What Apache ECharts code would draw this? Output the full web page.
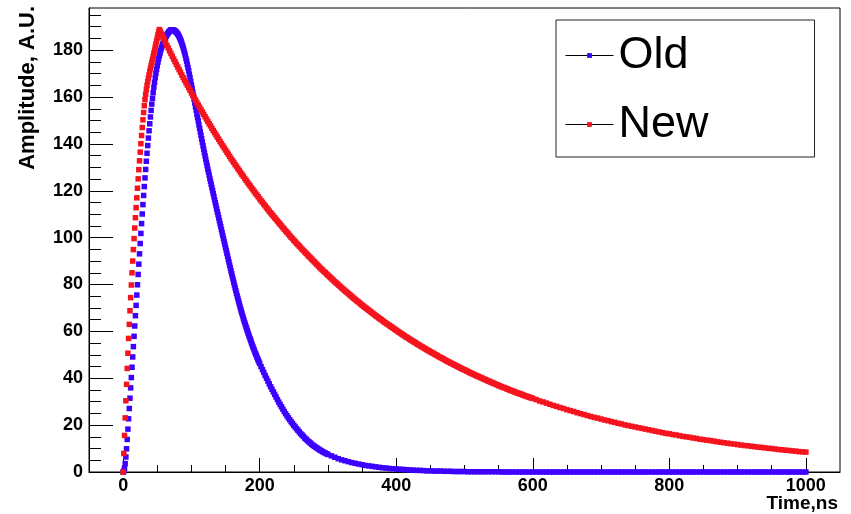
<!DOCTYPE html>
<html>
<head>
<meta charset="utf-8">
<script src="https://cdn.jsdelivr.net/npm/echarts@6/dist/echarts.min.js"></script>
<style>
  html, body { margin: 0; padding: 0; background: #fff; }
  #chart { width: 851px; height: 514px; }
</style>
</head>
<body>
<div id="chart"></div>
<script>
// Pulse shapes of the old and new shaper, amplitude vs time.
const FONT = "'Liberation Sans', Arial, Helvetica, sans-serif";

const seriesNames = ['Old', 'New'];
const xTickLabels = [0, 200, 400, 600, 800, 1000];
const xMinorTicks = [50, 100, 150, 250, 300, 350, 450, 500, 550, 650, 700, 750, 850, 900, 950];
const yTickLabels = [0, 20, 40, 60, 80, 100, 120, 140, 160, 180];
const yMinorTicks = [5, 10, 15, 25, 30, 35, 45, 50, 55, 65, 70, 75, 85, 90, 95, 105, 110, 115,
                     125, 130, 135, 145, 150, 155, 165, 170, 175, 185, 190, 195];

// Old pulse: 0-200 ns sampled every 1 ns
const oldPulse1ns = [
  0, 0.4, 1.6, 3.6, 6.4, 9.9, 13.9, 18.3, 22.7, 27.1,
  31.5, 35.9, 40.3, 44.7, 49.1, 53.5, 57.9, 62.3, 66.7, 71.1,
  75.5, 79.9, 84.3, 88.7, 93.1, 97.5, 101.8, 106.0, 110.1, 114.1,
  118.0, 121.8, 125.5, 129.1, 132.6, 136.0, 139.3, 142.5, 145.6, 148.6,
  151.5, 154.3, 157.0, 159.5, 161.9, 164.2, 166.3, 168.3, 170.1, 171.8,
  173.4, 174.9, 176.3, 177.6, 178.8, 179.9, 180.9, 181.8, 182.6, 183.4,
  184.1, 184.8, 185.4, 186.0, 186.5, 187.0, 187.4, 187.8, 188.1, 188.4,
  188.6, 188.7, 188.7, 188.6, 188.5, 188.4, 188.2, 187.9, 187.6, 187.3,
  186.9, 186.4, 185.8, 185.2, 184.5, 183.8, 182.9, 182.0, 181.1, 180.0,
  178.9, 177.8, 176.5, 175.3, 173.9, 172.6, 171.2, 169.7, 168.2, 166.7,
  165.2, 163.7, 162.1, 160.6, 159.0, 157.5, 155.9, 154.4, 152.8, 151.3,
  149.8, 148.2, 146.7, 145.2, 143.7, 142.2, 140.7, 139.2, 137.8, 136.3,
  134.9, 133.5, 132.1, 130.7, 129.3, 128.0, 126.7, 125.3, 124.0, 122.7,
  121.4, 120.1, 118.8, 117.5, 116.2, 114.9, 113.6, 112.3, 111.0, 109.8,
  108.5, 107.2, 105.9, 104.7, 103.4, 102.1, 100.9, 99.6, 98.3, 97.1,
  95.8, 94.6, 93.3, 92.1, 90.8, 89.6, 88.3, 87.1, 85.8, 84.6,
  83.4, 82.2, 81.0, 79.8, 78.6, 77.4, 76.3, 75.2, 74.1, 73.0,
  71.9, 70.8, 69.7, 68.7, 67.7, 66.7, 65.7, 64.7, 63.8, 62.9,
  62.0, 61.1, 60.2, 59.3, 58.5, 57.6, 56.8, 56.0, 55.1, 54.3,
  53.5, 52.7, 52.0, 51.2, 50.5, 49.8, 49.0, 48.3, 47.6, 47.0,
  46.3
];
// Old pulse: 202-300 ns every 2 ns
const oldPulse2ns = [
  45.0, 43.7, 42.5, 41.2, 40.0, 38.8, 37.6, 36.4, 35.3, 34.2,
  33.1, 32.0, 30.9, 29.8, 28.8, 27.8, 26.8, 25.8, 24.9, 24.0,
  23.1, 22.3, 21.5, 20.7, 19.9, 19.2, 18.5, 17.8, 17.1, 16.4,
  15.8, 15.2, 14.5, 14.0, 13.4, 12.9, 12.4, 11.9, 11.4, 11.0,
  10.6, 10.2, 9.8, 9.4, 9.1, 8.7, 8.4, 8.1, 7.8, 7.5
];
// Old pulse: 305-1000 ns every 5 ns
const oldPulse5ns = [
  6.9, 6.3, 5.7, 5.2, 4.8, 4.4, 4.0, 3.7, 3.4, 3.1,
  2.8, 2.6, 2.4, 2.2, 2.0, 1.8, 1.7, 1.5, 1.4, 1.3,
  1.2, 1.1, 1.0, 0.9, 0.8, 0.7, 0.7, 0.6, 0.5, 0.5,
  0.4, 0.4, 0.4, 0.3, 0.3, 0.3, 0.2, 0.2, 0.2, 0.2,
  0.1, 0.1, 0.1, 0.1, 0.1, 0.1, 0.1, 0.1, 0.1, 0.1,
  0, 0, 0, 0, 0, 0, 0, 0, 0, 0,
  0, 0, 0, 0, 0, 0, 0, 0, 0, 0,
  0, 0, 0, 0, 0, 0, 0, 0, 0, 0,
  0, 0, 0, 0, 0, 0, 0, 0, 0, 0,
  0, 0, 0, 0, 0, 0, 0, 0, 0, 0,
  0, 0, 0, 0, 0, 0, 0, 0, 0, 0,
  0, 0, 0, 0, 0, 0, 0, 0, 0, 0,
  0, 0, 0, 0, 0, 0, 0, 0, 0, 0,
  0, 0, 0, 0, 0, 0, 0, 0, 0, 0
];

// New pulse: 0-60 ns every 1 ns
const newPulse1ns = [
  0, 7.9, 15.6, 23.1, 30.4, 37.4, 44.2, 50.7, 57.0, 63.0,
  68.8, 74.4, 79.8, 85.0, 90.0, 94.9, 99.6, 104.1, 108.5, 112.8,
  117.0, 121.1, 125.1, 129.0, 132.8, 136.5, 140.1, 143.6, 147.0, 150.3,
  153.4, 156.3, 158.9, 161.2, 163.2, 165.0, 166.6, 168.1, 169.5, 170.9,
  172.2, 173.5, 174.8, 176.1, 177.4, 178.7, 180.0, 181.3, 182.6, 183.9,
  185.2, 186.5, 187.7, 188.8, 188.2, 187.6, 186.9, 186.3, 185.7, 185.1,
  184.5
];
// New pulse: 62-200 ns every 2 ns
const newPulse2ns = [
  183.3, 182.1, 180.9, 179.7, 178.6, 177.4, 176.2, 175.1, 173.9, 172.8,
  171.7, 170.6, 169.4, 168.3, 167.2, 166.1, 165.1, 164.0, 162.9, 161.8,
  160.8, 159.7, 158.7, 157.7, 156.6, 155.6, 154.6, 153.6, 152.6, 151.6,
  150.6, 149.6, 148.6, 147.7, 146.7, 145.7, 144.8, 143.8, 142.9, 142.0,
  141.0, 140.1, 139.2, 138.3, 137.4, 136.5, 135.6, 134.7, 133.8, 132.9,
  132.1, 131.2, 130.4, 129.5, 128.7, 127.8, 127.0, 126.2, 125.3, 124.5,
  123.7, 122.9, 122.1, 121.3, 120.5, 119.7, 118.9, 118.2, 117.4, 116.6
];
// New pulse: 202-600 ns every 2 ns
const newPulse2nsLate = [
  115.8, 115.1, 114.3, 113.6, 112.8, 112.1, 111.3, 110.6, 109.9, 109.2,
  108.5, 107.8, 107.1, 106.4, 105.7, 105.0, 104.3, 103.6, 102.9, 102.3,
  101.6, 100.9, 100.2, 99.6, 98.9, 98.3, 97.6, 97.0, 96.4, 95.8,
  95.1, 94.5, 93.9, 93.3, 92.7, 92.1, 91.5, 90.9, 90.3, 89.7,
  89.1, 88.5, 87.9, 87.3, 86.7, 86.2, 85.6, 85.1, 84.5, 84.0,
  83.4, 82.9, 82.3, 81.8, 81.2, 80.7, 80.2, 79.7, 79.1, 78.6,
  78.1, 77.6, 77.1, 76.6, 76.1, 75.6, 75.1, 74.6, 74.1, 73.6,
  73.1, 72.7, 72.2, 71.7, 71.2, 70.8, 70.3, 69.9, 69.4, 69.0,
  68.5, 68.1, 67.6, 67.2, 66.7, 66.3, 65.8, 65.4, 65.0, 64.6,
  64.1, 63.7, 63.3, 62.9, 62.5, 62.1, 61.7, 61.3, 60.9, 60.5,
  60.1, 59.7, 59.3, 58.9, 58.5, 58.1, 57.7, 57.4, 57.0, 56.6,
  56.2, 55.9, 55.5, 55.2, 54.8, 54.4, 54.1, 53.7, 53.4, 53.0,
  52.7, 52.3, 52.0, 51.7, 51.3, 51.0, 50.7, 50.3, 50.0, 49.7,
  49.3, 49.0, 48.7, 48.4, 48.1, 47.7, 47.4, 47.1, 46.8, 46.5,
  46.2, 45.9, 45.6, 45.3, 45.0, 44.7, 44.4, 44.1, 43.8, 43.6,
  43.3, 43.0, 42.7, 42.4, 42.1, 41.9, 41.6, 41.3, 41.0, 40.8,
  40.5, 40.3, 40.0, 39.7, 39.5, 39.2, 38.9, 38.7, 38.4, 38.2,
  37.9, 37.7, 37.4, 37.2, 36.9, 36.7, 36.4, 36.2, 36.0, 35.8,
  35.5, 35.3, 35.0, 34.8, 34.6, 34.4, 34.1, 33.9, 33.7, 33.5,
  33.3, 33.1, 32.8, 32.6, 32.4, 32.2, 32.0, 31.8, 31.6, 31.4
];
// New pulse: 605-1000 ns every 5 ns
const newPulse5ns = [
  30.9, 30.3, 29.9, 29.4, 28.9, 28.4, 28.0, 27.5, 27.1, 26.6,
  26.2, 25.8, 25.3, 24.9, 24.5, 24.1, 23.7, 23.3, 23.0, 22.6,
  22.2, 21.9, 21.5, 21.2, 20.8, 20.5, 20.1, 19.8, 19.5, 19.2,
  18.9, 18.6, 18.3, 18.0, 17.7, 17.4, 17.1, 16.8, 16.5, 16.3,
  16.0, 15.8, 15.5, 15.2, 15.0, 14.8, 14.5, 14.3, 14.0, 13.8,
  13.6, 13.4, 13.2, 12.9, 12.7, 12.5, 12.3, 12.1, 11.9, 11.7,
  11.5, 11.3, 11.2, 11.0, 10.8, 10.6, 10.5, 10.3, 10.1, 10.0,
  9.8, 9.6, 9.5, 9.3, 9.2, 9.0, 8.9, 8.7, 8.6, 8.5
];

// Pair each sample with its time (ns)
function sampled(startNs, stepNs, values) {
  return values.map((v, i) => [startNs + i * stepNs, v]);
}

const oldPoints = [].concat(
  sampled(0, 1, oldPulse1ns),
  sampled(202, 2, oldPulse2ns),
  sampled(305, 5, oldPulse5ns)
);
const newPoints = [].concat(
  sampled(0, 1, newPulse1ns),
  sampled(62, 2, newPulse2ns),
  sampled(202, 2, newPulse2nsLate),
  sampled(605, 5, newPulse5ns)
);

function markerSeries(name, color, points) {
  return {
    type: 'line',
    name: name,
    data: points,
    symbol: 'rect',
    symbolSize: 5.5,
    showSymbol: true,
    showAllSymbol: true,
    lineStyle: { width: 0, opacity: 0 },
    itemStyle: { color: color },
    clip: false,
    silent: true,
    emphasis: { disabled: true },
    animation: false
  };
}

const labelStyle = {
  fontFamily: FONT, fontSize: 18, fontWeight: 'bold', color: '#000',
  formatter: (v) => String(v)
};

const chart = echarts.init(document.getElementById('chart'), null, { renderer: 'canvas' });
chart.setOption({
  backgroundColor: '#fff',
  animation: false,
  grid: {
    left: 89, right: 11, top: 8, bottom: 42,
    show: true, borderColor: '#000', borderWidth: 1, backgroundColor: 'transparent'
  },
  legend: {
    data: seriesNames,
    orient: 'vertical',
    left: 556, top: 20,
    padding: [13, 106, 10, 9],
    itemWidth: 48, itemHeight: 6, itemGap: 24,
    borderColor: '#222', borderWidth: 1,
    selectedMode: false,
    lineStyle: { color: '#000', width: 1, opacity: 1 },
    textStyle: { fontFamily: FONT, fontSize: 45, color: '#000' }
  },
  xAxis: [
    {
      type: 'value', min: -50, max: 1050,
      axisLine: { show: true, onZero: false, lineStyle: { color: '#000', width: 1 } },
      axisTick: { show: true, inside: true, length: 14, customValues: xTickLabels, lineStyle: { color: '#000' } },
      axisLabel: Object.assign({ customValues: xTickLabels, margin: 5 }, labelStyle),
      splitLine: { show: false }
    },
    {
      type: 'value', min: -50, max: 1050, position: 'bottom',
      axisLine: { show: false, onZero: false },
      axisTick: { show: true, inside: true, length: 7, customValues: xMinorTicks, lineStyle: { color: '#000' } },
      axisLabel: { show: false },
      splitLine: { show: false }
    }
  ],
  yAxis: [
    {
      type: 'value', min: 0, max: 198,
      axisLine: { show: true, onZero: false, lineStyle: { color: '#000', width: 1 } },
      axisTick: { show: true, inside: true, length: 24, customValues: yTickLabels, lineStyle: { color: '#000' } },
      axisLabel: Object.assign({ customValues: yTickLabels, margin: 6 }, labelStyle),
      splitLine: { show: false }
    },
    {
      type: 'value', min: 0, max: 198, position: 'left',
      axisLine: { show: false, onZero: false },
      axisTick: { show: true, inside: true, length: 12, customValues: yMinorTicks, lineStyle: { color: '#000' } },
      axisLabel: { show: false },
      splitLine: { show: false }
    }
  ],
  graphic: [
    {
      type: 'text', x: 28, y: 6, rotation: Math.PI / 2,
      style: { text: 'Amplitude, A.U.', fontFamily: FONT, fontSize: 22, fontWeight: 'bold',
               fill: '#000', align: 'right', verticalAlign: 'middle' }
    },
    {
      type: 'text', x: 838, y: 503.5,
      style: { text: 'Time,ns', fontFamily: FONT, fontSize: 19, fontWeight: 'bold',
               fill: '#000', align: 'right', verticalAlign: 'middle' }
    }
  ],
  series: [
    markerSeries(seriesNames[0], '#3c00ff', oldPoints),
    markerSeries(seriesNames[1], '#f5141e', newPoints)
  ]
});
</script>
</body>
</html>
